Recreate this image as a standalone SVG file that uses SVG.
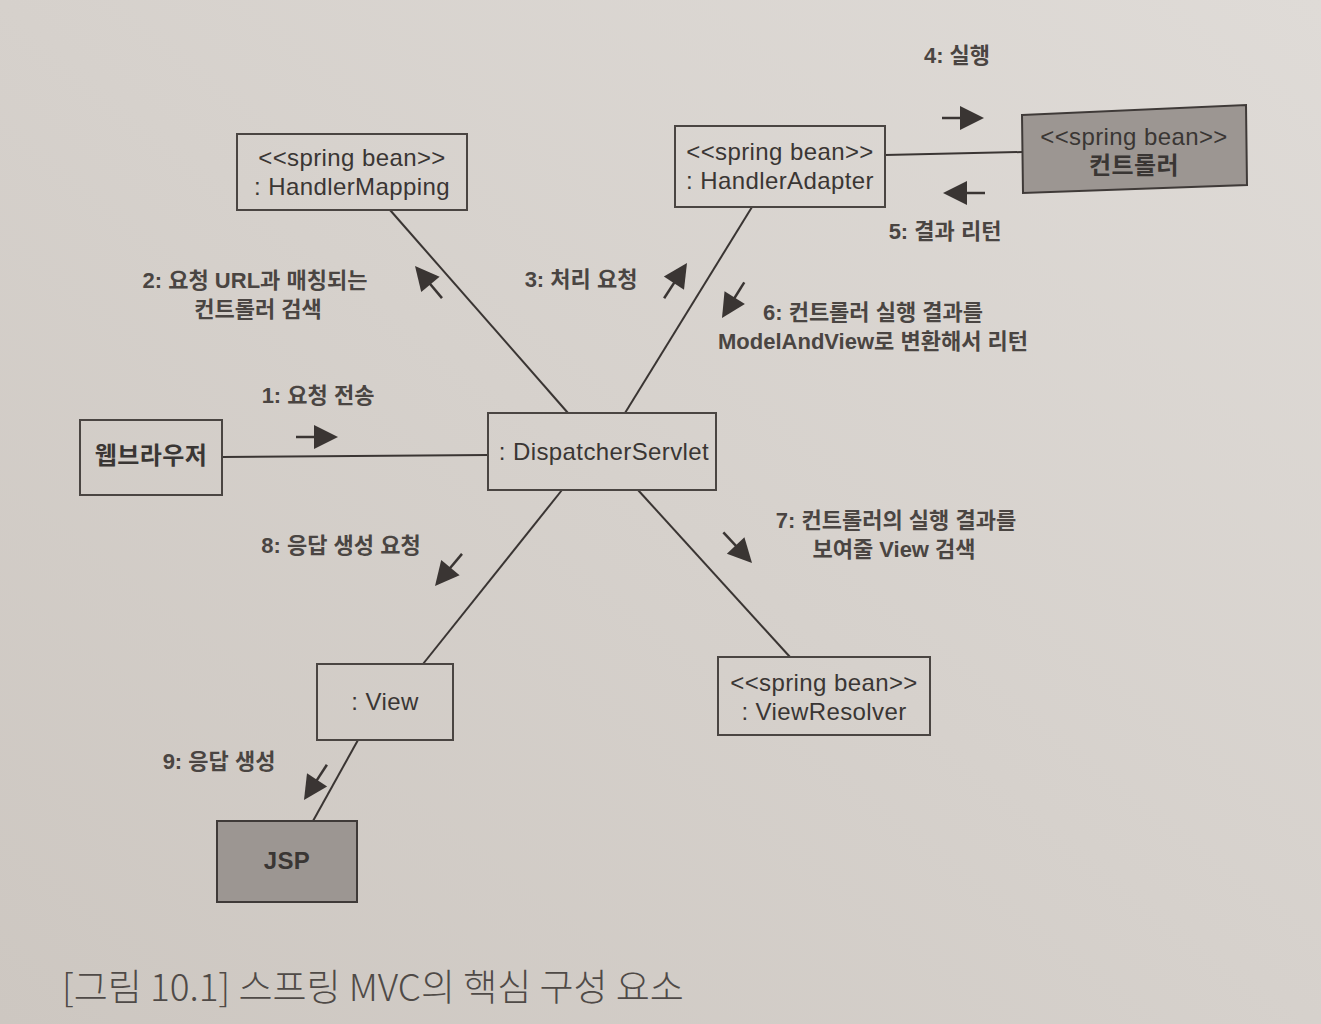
<svg xmlns="http://www.w3.org/2000/svg" xmlns:xlink="http://www.w3.org/1999/xlink" width="1321" height="1024" viewBox="0 0 1321 1024">
<defs>
<linearGradient id="bg" x1="1" y1="0" x2="0" y2="1">
<stop offset="0" stop-color="#dfdbd7"/>
<stop offset="1" stop-color="#cdc7c1"/>
</linearGradient>
<g id="msg">
<line x1="-42" y1="0" x2="-18" y2="0" stroke="#3a3533" stroke-width="2.5"/>
<polygon points="0,0 -24,-12 -24,12" fill="#3a3533"/>
</g>
<style>
.box{fill:none;stroke:#4a4542;stroke-width:2}
.gray{fill:#9c9692;stroke:#3f3a38;stroke-width:2}
.conn{stroke:#3a3533;stroke-width:2;fill:none}
.nt{font-family:"Liberation Sans","Noto Sans CJK KR",sans-serif;font-size:24px;letter-spacing:0.4px;fill:#3a3634;text-anchor:middle}
.lb{font-family:"Liberation Sans","Noto Sans CJK KR",sans-serif;font-size:22px;font-weight:bold;fill:#4a4542;text-anchor:middle}
.cap{font-family:"Noto Sans CJK KR",sans-serif;font-size:37px;font-weight:300;fill:#4f4a47}
</style>
</defs>
<rect x="0" y="0" width="1321" height="1024" fill="url(#bg)"/>

<g id="connectors">
<line class="conn" x1="885" y1="155" x2="1022" y2="152"/>
<line class="conn" x1="222" y1="457" x2="488" y2="455"/>
<line class="conn" x1="390" y1="210" x2="568" y2="413"/>
<line class="conn" x1="752" y1="207" x2="625" y2="413"/>
<line class="conn" x1="562" y1="490" x2="423" y2="664"/>
<line class="conn" x1="638" y1="490" x2="790" y2="657"/>
<line class="conn" x1="358" y1="740" x2="313" y2="821"/>
<use xlink:href="#msg" transform="translate(338,437)"/>
<use xlink:href="#msg" transform="translate(415,266) rotate(-130)"/>
<use xlink:href="#msg" transform="translate(687,263) rotate(-57)"/>
<use xlink:href="#msg" transform="translate(984,118)"/>
<use xlink:href="#msg" transform="translate(943,193) rotate(180)"/>
<use xlink:href="#msg" transform="translate(722,318) rotate(122)"/>
<use xlink:href="#msg" transform="translate(752,563) rotate(47)"/>
<use xlink:href="#msg" transform="translate(435,586) rotate(130)"/>
<use xlink:href="#msg" transform="translate(304,800) rotate(123)"/>
</g>

<g id="labels">
<text class="lb" x="957" y="63">4: 실행</text>
<text class="lb" x="945" y="239">5: 결과 리턴</text>
<text class="lb" x="255" y="288">2: 요청 URL과 매칭되는</text>
<text class="lb" x="258" y="317">컨트롤러 검색</text>
<text class="lb" x="581" y="287">3: 처리 요청</text>
<text class="lb" x="873" y="320">6: 컨트롤러 실행 결과를</text>
<text class="lb" x="873" y="349">ModelAndView로 변환해서 리턴</text>
<text class="lb" x="318" y="403">1: 요청 전송</text>
<text class="lb" x="896" y="528">7: 컨트롤러의 실행 결과를</text>
<text class="lb" x="894" y="557">보여줄 View 검색</text>
<text class="lb" x="341" y="553">8: 응답 생성 요청</text>
<text class="lb" x="219" y="769">9: 응답 생성</text>
</g>

<g id="handlerMapping">
<rect class="box" x="237" y="134" width="230" height="76"/>
<text class="nt" x="352" y="166">&lt;&lt;spring bean&gt;&gt;</text>
<text class="nt" x="352" y="195">: HandlerMapping</text>
</g>
<g id="handlerAdapter">
<rect class="box" x="675" y="126" width="210" height="81"/>
<text class="nt" x="780" y="160">&lt;&lt;spring bean&gt;&gt;</text>
<text class="nt" x="780" y="189">: HandlerAdapter</text>
</g>
<g id="controller">
<polygon class="gray" points="1022,115 1246,105 1247,185 1023,193"/>
<text class="nt" x="1134" y="145">&lt;&lt;spring bean&gt;&gt;</text>
<text class="nt" x="1134" y="174" font-weight="bold" font-size="22">컨트롤러</text>
</g>
<g id="browser">
<rect class="box" x="80" y="420" width="142" height="75"/>
<text class="nt" x="151" y="464" font-size="20" font-weight="bold">웹브라우저</text>
</g>
<g id="dispatcher">
<rect class="box" x="488" y="413" width="228" height="77"/>
<text class="nt" x="604" y="460">: DispatcherServlet</text>
</g>
<g id="view">
<rect class="box" x="317" y="664" width="136" height="76"/>
<text class="nt" x="385" y="710">: View</text>
</g>
<g id="viewResolver">
<rect class="box" x="718" y="657" width="212" height="78"/>
<text class="nt" x="824" y="691">&lt;&lt;spring bean&gt;&gt;</text>
<text class="nt" x="824" y="720">: ViewResolver</text>
</g>
<g id="jsp">
<rect class="gray" x="217" y="821" width="140" height="81" fill="#a39d98"/>
<text class="nt" x="287" y="869" font-weight="bold">JSP</text>
</g>

<text class="cap" x="62" y="1001">[그림 10.1] 스프링 MVC의 핵심 구성 요소</text>
</svg>
